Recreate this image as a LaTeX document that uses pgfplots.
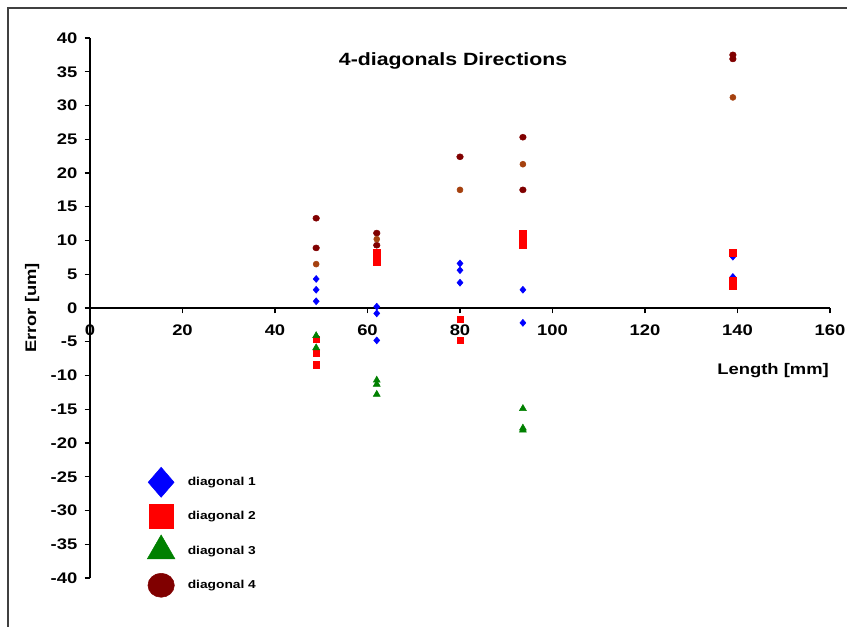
\documentclass[border=0pt]{standalone}
\usepackage{fontspec}
\setmainfont{Liberation Sans}[FakeStretch=1.2]
\usepackage{pgfplots}
\pgfplotsset{compat=1.18}
\definecolor{dgreen}{RGB}{0,128,0}
\definecolor{dred}{RGB}{128,0,0}
\definecolor{brn}{RGB}{165,65,15}
\begin{document}
\begin{tikzpicture}
\useasboundingbox (0,0) rectangle (635.25pt,470.25pt);
\draw[line width=1.1pt, black!75] (6pt,0pt) -- (6pt,464.25pt) -- (635.25pt,464.25pt);
\begin{axis}[
  at={(67.5pt,36.75pt)}, anchor=south west,
  scale only axis, width=555pt, height=405pt,
  axis lines=middle,
  xmin=0, xmax=160, ymin=-40, ymax=40,
  xtick={0,20,...,160}, ytick={-40,-35,...,40},
  hide obscured x ticks=false, hide obscured y ticks=false,
  tick align=outside, major tick length=4pt,
  axis line style={line width=0.9pt, -},
  every tick/.style={line width=0.9pt, black},
  /pgf/number format/assume math mode=true,
  tick label style={font=\fontsize{11.5}{13}\selectfont\bfseries},
  xticklabel style={yshift=-5pt},
  yticklabel style={xshift=-2pt},
  xlabel={Length [mm]}, ylabel={Error [um]},
  label style={font=\fontsize{11.5}{13}\selectfont\bfseries},
  xlabel style={at={(axis cs:147.7,-9.3)}, anchor=center},
  ylabel style={at={(axis cs:-12.5,0)}, anchor=center, rotate=90},
  title={4-diagonals Directions},
  title style={at={(axis cs:78.5,35.4)}, anchor=center, font=\fontsize{13.3}{15}\selectfont\bfseries},
  clip=false,
  legend style={at={(axis cs:11,-24.2)}, anchor=north west, draw=none, fill=none,
    font=\fontsize{8.6}{10}\selectfont\bfseries, row sep=13.75pt,
    nodes={inner sep=2pt}},
  legend cell align=left,
  legend image code/.code={%
    \path[draw=none,fill=none] (0pt,-6pt) rectangle (30pt,6pt);
    \draw[overlay,mark repeat=2,mark phase=2,#1] plot coordinates {(0pt,0pt) (12pt,0pt) (24pt,0pt)};},
]
\addplot[only marks, mark=diamond*, color=blue, mark size=2.6pt, mark options={xscale=1.15},
  legend image post style={mark size=11.25pt}] coordinates {
(48.9,4.3)(48.9,2.7)(48.9,1.0)(62,0.2)(62,-0.8)(62,-4.8)(80,6.6)(80,5.6)(80,3.75)
(93.6,2.7)(93.6,-2.2)(139,7.6)(139,4.6)};
\addlegendentry{diagonal 1}
\addplot[only marks, mark=square*, color=red, mark size=2.4pt,
  legend image post style={mark size=9pt}] coordinates {
(48.9,-4.6)(48.9,-6.7)(48.9,-8.4)(62,8.2)(62,7.3)(62,6.8)(80,-1.7)(80,-4.8)
(93.6,11.0)(93.6,9.8)(93.6,9.3)(139,8.2)(139,4.1)(139,3.3)};
\addlegendentry{diagonal 2}
\addplot[only marks, mark=triangle*, color=dgreen, mark size=3pt,
  legend image post style={mark size=12pt}] coordinates {
(48.9,-4.1)(48.9,-5.9)(62,-10.7)(62,-11.3)(62,-12.8)(93.6,-14.9)(93.6,-17.8)(93.6,-18.1)};
\addlegendentry{diagonal 3}
\addplot[only marks, mark=*, color=dred, mark size=2.25pt, mark options={xscale=1.1},
  legend image post style={mark size=9pt}] coordinates {
(48.9,13.3)(48.9,8.9)(62,11.1)(62,9.3)(80,22.4)(93.6,25.3)(93.6,17.5)(139,37.5)(139,36.9)};
\addlegendentry{diagonal 4}
\addplot[only marks, mark=*, color=brn, mark size=2.25pt, forget plot] coordinates {
(48.9,6.5)(62,10.2)(80,17.5)(93.6,21.3)(139,31.2)};
\end{axis}
\end{tikzpicture}
\end{document}
